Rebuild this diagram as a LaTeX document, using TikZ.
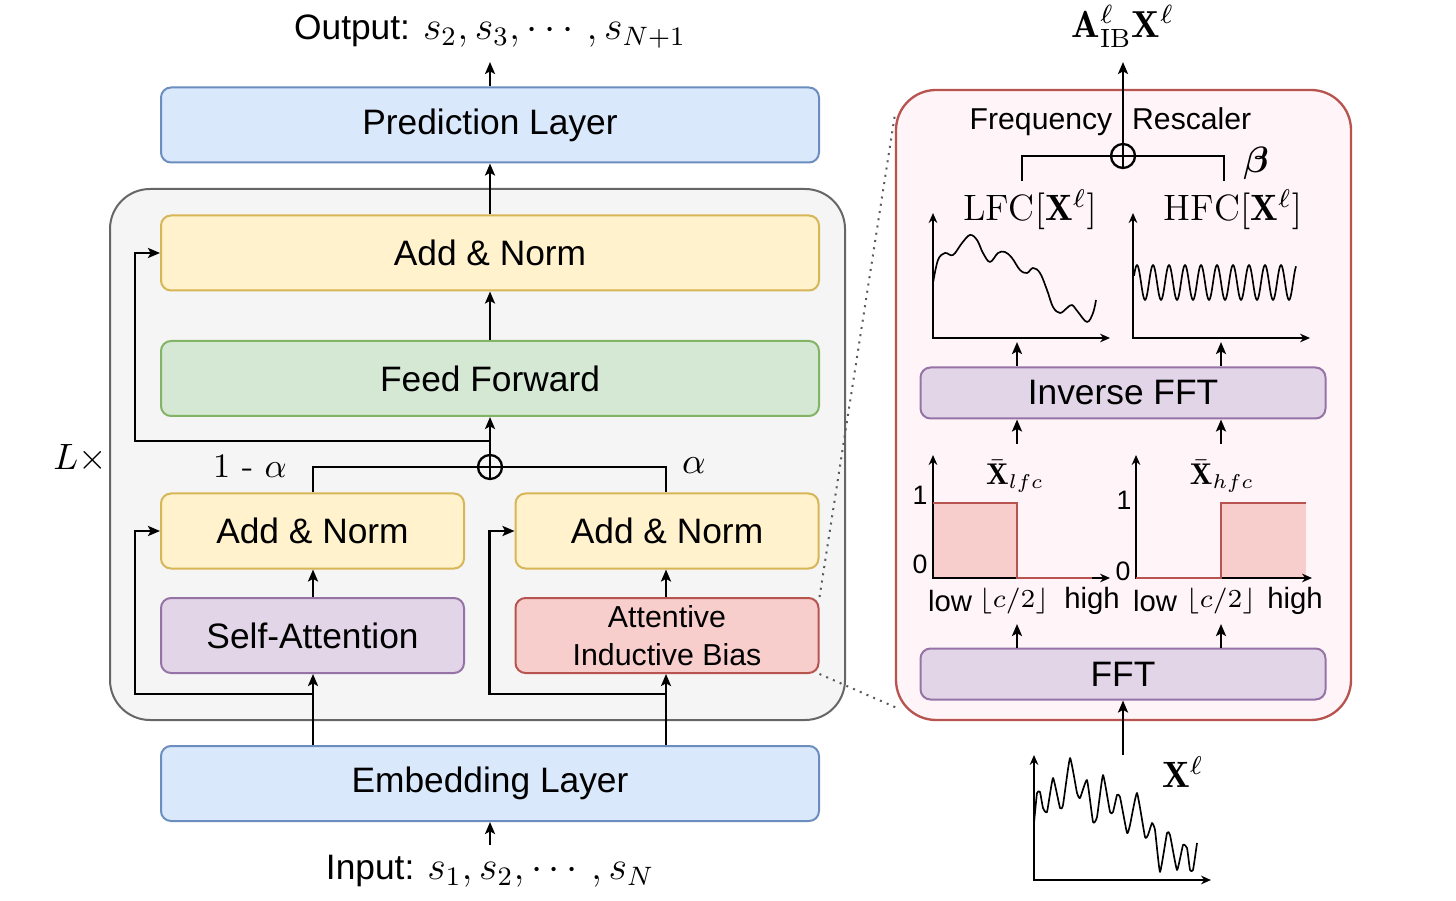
\RequirePackage{fix-cm}
\documentclass[tikz,border=0pt]{standalone}
\usepackage{amsmath, amssymb}
\usepackage{bm}
\usepackage{fontspec}
\newfontfamily\lsans{Liberation Sans}
\usepackage{tikz}
\usetikzlibrary{arrows.meta,calc,positioning}
\usepackage{xcolor}
\definecolor{layer-blue}{HTML}{DAE8FC}
\definecolor{layer-blue-line}{HTML}{6C8EBF}
\definecolor{layer-yellow}{HTML}{FFF2CC}
\definecolor{layer-yellow-line}{HTML}{D6B656}
\definecolor{layer-green}{HTML}{D5E8D4}
\definecolor{layer-green-line}{HTML}{82B366}
\definecolor{layer-purple}{HTML}{E1D5E7}
\definecolor{layer-purple-line}{HTML}{9673A6}
\definecolor{layer-red}{HTML}{F8CECC}
\definecolor{layer-red-line}{HTML}{B85450}
\definecolor{block-gray}{HTML}{F5F5F5}
\definecolor{block-gray-line}{HTML}{666666}
\definecolor{panel-pink}{HTML}{FFF5F8}
\tikzstyle{conn}=[line width=0.7pt, -{Stealth[length=3.6pt,width=3pt,inset=0.8pt]}]
\tikzstyle{wire}=[line width=0.7pt]
\tikzstyle{layer}=[draw, rounded corners=3pt, line width=0.6pt, inner sep=0pt, font=\lsans\fontsize{10.6}{12}\selectfont]
\tikzstyle{wide}=[layer, minimum width=197.4pt, minimum height=22.5pt]
\tikzstyle{half}=[layer, minimum width=90.9pt, minimum height=22.5pt]
\tikzstyle{slim}=[layer, minimum width=121.5pt, minimum height=15.3pt]
\tikzstyle{bluebox}=[fill=layer-blue, draw=layer-blue-line]
\tikzstyle{yellowbox}=[fill=layer-yellow, draw=layer-yellow-line]
\tikzstyle{greenbox}=[fill=layer-green, draw=layer-green-line]
\tikzstyle{purplebox}=[fill=layer-purple, draw=layer-purple-line]
\tikzstyle{redbox}=[fill=layer-red, draw=layer-red-line]
\tikzstyle{oplus}=[circle, draw, line width=0.7pt, minimum size=7.2pt, inner sep=0pt]
\tikzstyle{axisarr}=[line width=0.5pt, {Stealth[length=3pt,width=2.6pt]}-{Stealth[length=3pt,width=2.6pt]}]
\tikzstyle{curve}=[line width=0.5pt, line join=round]
\tikzstyle{filterline}=[line width=0.6pt, draw=layer-red-line]
\tikzstyle{sanslbl}=[inner sep=0pt, font=\lsans\fontsize{8.8}{10}\selectfont]
\tikzstyle{mathlbl}=[inner sep=0pt, font=\fontsize{11}{13}\selectfont]
\newcommand{\plotAxes}[3]{
	\draw[axisarr] ($#1+(0,-#2)$) -- #1 -- ($#1+(#3,0)$);
}

\begin{document}
\begin{tikzpicture}[x=0.3pt, y=-0.3pt]
	\useasboundingbox (0,0) rectangle (1456,901);
	% transformer block
	\draw[rounded corners=12pt, line width=0.6pt, fill=block-gray, draw=block-gray-line] (110,189) rectangle (845,720);
	\node[mathlbl] (times) at (80,458) {$L\times$};

	\node[wide, bluebox] (pred) at (490,125) {Prediction Layer};
	\node[wide, yellowbox] (addtop) at (490,253) {Add \& Norm};
	\node[wide, greenbox] (ff) at (490,378.5) {Feed Forward};
	\node[half, yellowbox] (anl) at (312.5,531) {Add \& Norm};
	\node[half, yellowbox] (anr) at (667,531) {Add \& Norm};
	\node[half, purplebox] (sa) at (312.5,635.5) {Self-Attention};
	\node[half, redbox, font=\lsans\fontsize{9.1}{11.4}\selectfont, align=center] (aib) at (667,635.5) {Attentive\\Inductive Bias};
	\node[wide, bluebox] (emb) at (490,783.5) {Embedding Layer};

	\node[mathlbl, anchor=south, inner xsep=0pt, inner ysep=4pt, font=\fontsize{12}{14}\selectfont] (out) at (490,62) {{\lsans\fontsize{10.6}{12}\selectfont Output:}\ $s_2, s_3, \cdots, s_{N+1}$};
	\node[mathlbl, anchor=north, inner xsep=0pt, inner ysep=3pt, font=\fontsize{12}{14}\selectfont] (in) at (490,845) {{\lsans\fontsize{10.6}{12}\selectfont Input:}\ $s_1, s_2, \cdots, s_N$};

	\node[oplus] (plusL) at (490,467) {};
	\draw[wire] (plusL.north) -- (plusL.south);
	\draw[wire] (plusL.west) -- (plusL.east);
	\draw[wire] (anl.north -| 313,0) |- (plusL.west);
	\draw[wire] (anr.north -| 666,0) |- (plusL.east);
	\node[inner sep=0pt, font=\fontsize{10.3}{12}\selectfont] (oneminus) at (250,466) {1 - $\alpha$};
	\node[mathlbl] (alph) at (694,466) {$\alpha$};

	\draw[conn] (in.north) -- (emb.south);
	\draw[conn] (pred.north) -- (out.south);
	\draw[conn] (addtop.north) -- (pred.south);
	\draw[conn] (ff.north) -- (addtop.south);
	\draw[conn] (plusL.north) -- (ff.south);
	\coordinate (resTop) at (490,441);
	\draw[conn] (resTop) -| ($(addtop.west)+(-25,0)$) -- (addtop.west);

	\draw[conn] (emb.north -| 313,0) -- (sa.south -| 313,0);
	\draw[conn] (sa.north -| 313,0) -- (anl.south -| 313,0);
	\coordinate (resL) at (313,694);
	\draw[conn] (resL) -| ($(anl.west)+(-25,0)$) -- (anl.west);
	\draw[conn] (emb.north -| 666,0) -- (aib.south -| 666,0);
	\draw[conn] (aib.north -| 666,0) -- (anr.south -| 666,0);
	\coordinate (resR) at (666,694);
	\draw[conn] (resR) -| ($(anr.west)+(-25,0)$) -- (anr.west);

	% zoomed frequency rescaler
	\draw[rounded corners=12pt, line width=0.7pt, fill=panel-pink, draw=layer-red-line] (896,90) rectangle (1351,720);
	\coordinate (panelTL) at (895,114);
	\coordinate (panelBL) at (897,708);
	\draw[line width=0.6pt, draw=black!65, dash pattern=on 0.6pt off 1.6pt] (aib.north east) -- (panelTL);
	\draw[line width=0.6pt, draw=black!65, dash pattern=on 0.6pt off 1.6pt] (aib.south east) -- (panelBL);

	\node[sanslbl, font=\lsans\fontsize{9.05}{11}\selectfont] (rescaler) at (1110.5,122) {Frequency\hspace{6pt}Rescaler};
	\node[oplus] (plusR) at (1123,156) {};
	\draw[wire] (plusR.south) -- (plusR.north);
	\draw[wire] (plusR.west) -- (plusR.east);
	\coordinate (lfcTop) at (1022,181);
	\coordinate (hfcTop) at (1224,181);
	\draw[wire] (lfcTop) |- (plusR.west);
	\draw[wire] (hfcTop) |- (plusR.east);
	\node[mathlbl] (beta) at (1256,163) {$\bm{\beta}$};
	\node[mathlbl, anchor=south, inner xsep=0pt, inner ysep=4pt, font=\fontsize{11.3}{13}\selectfont] (outR) at (1123,62) {$\mathbf{A}^{\ell}_{\mathrm{IB}}\mathbf{X}^{\ell}$};
	\draw[conn] (plusR.north) -- (outR.south);

	% inverse transform outputs
	\node[mathlbl] (lfc) at (1030,210) {$\mathrm{LFC}[\mathbf{X}^{\ell}]$};
	\node[mathlbl] (hfc) at (1233,210) {$\mathrm{HFC}[\mathbf{X}^{\ell}]$};
	\plotAxes{(933,338)}{125}{177}
	\plotAxes{(1133,338)}{125}{177}
	\draw[curve] plot[smooth, tension=0.6] coordinates {(933,283) (938,260) (945,253) (953,255) (962,243) (970,235) (977,240) (983,253) (990,262) (998,253) (1005,252) (1012,258) (1020,270) (1027,273) (1033,268) (1040,273) (1047,290) (1053,307) (1060,313) (1067,308) (1072,305) (1078,312) (1087,322) (1093,313) (1096,300)};
	\draw[curve] plot[domain=1134:1296, samples=163] (\x, {282.5-17.5*cos(22.5*(\x-1137))});

	\node[slim, purplebox] (ifft) at (1123,393) {Inverse FFT};
	\node[slim, purplebox] (fft) at (1123,674) {FFT};
	\coordinate (lfcPlot) at (1017,342);
	\coordinate (hfcPlot) at (1221,342);
	\draw[conn] (ifft.north -| lfcPlot) -- (lfcPlot);
	\draw[conn] (ifft.north -| hfcPlot) -- (hfcPlot);

	% filters
	\fill[layer-red] (933,503) rectangle (1017,578);
	\fill[layer-red] (1221,503) rectangle (1306,578);
	\plotAxes{(933,578)}{123}{177}
	\plotAxes{(1136,578)}{123}{176}
	\draw[filterline] (933,503) -- (1017,503) -- (1017,578) -- (1092,578);
	\draw[filterline] (1136,578) -- (1221,578) -- (1221,503) -- (1306,503);
	\node[mathlbl, font=\fontsize{9}{11}\selectfont] (xlfc) at (1015,476) {$\bar{\mathbf{X}}_{lfc}$};
	\node[mathlbl, font=\fontsize{9}{11}\selectfont] (xhfc) at (1222,476) {$\bar{\mathbf{X}}_{hfc}$};
	\node[sanslbl, font=\lsans\fontsize{8}{9}\selectfont] (oneL) at (920,495) {1};
	\node[sanslbl, font=\lsans\fontsize{8}{9}\selectfont] (zeroL) at (920,564) {0};
	\node[sanslbl, font=\lsans\fontsize{8}{9}\selectfont] (oneR) at (1124,500) {1};
	\node[sanslbl, font=\lsans\fontsize{8}{9}\selectfont] (zeroR) at (1123,571) {0};
	\node[sanslbl] (lowL) at (950,601) {low};
	\node[mathlbl, font=\fontsize{7.8}{9}\selectfont] (cL) at (1014,601) {$\lfloor c/2 \rfloor$};
	\node[sanslbl] (highL) at (1092,601) {high};
	\node[sanslbl] (lowR) at (1155,601) {low};
	\node[mathlbl, font=\fontsize{7.8}{9}\selectfont] (cR) at (1221,601) {$\lfloor c/2 \rfloor$};
	\node[sanslbl] (highR) at (1295,601) {high};
	\coordinate (lfcTopF) at (1017,444);
	\coordinate (hfcTopF) at (1221,444);
	\coordinate (lfcBotF) at (1017,624);
	\coordinate (hfcBotF) at (1221,624);
	\draw[conn] (lfcTopF) -- (ifft.south -| lfcTopF);
	\draw[conn] (hfcTopF) -- (ifft.south -| hfcTopF);
	\draw[conn] (fft.north -| lfcBotF) -- (lfcBotF);
	\draw[conn] (fft.north -| hfcBotF) -- (hfcBotF);

	% input signal
	\plotAxes{(1034,880)}{125}{177}
	\draw[curve] plot[smooth, tension=0.25] coordinates {(1034,823) (1037,793) (1040,792) (1043,808) (1047,812) (1053,778) (1060,808) (1063,805) (1070,758) (1077,793) (1080,798) (1087,780) (1093,822) (1097,817) (1103,775) (1110,812) (1113,812) (1117,795) (1120,797) (1127,833) (1130,825) (1137,793) (1145,837) (1148,835) (1152,823) (1155,830) (1160,872) (1167,833) (1170,835) (1177,870) (1183,845) (1187,848) (1190,870) (1193,870) (1197,843)};
	\node[mathlbl] (xl) at (1183,772) {$\mathbf{X}^{\ell}$};
	\coordinate (sigTop) at (1123,755);
	\draw[conn] (sigTop) -- (fft.south);
\end{tikzpicture}
\end{document}
